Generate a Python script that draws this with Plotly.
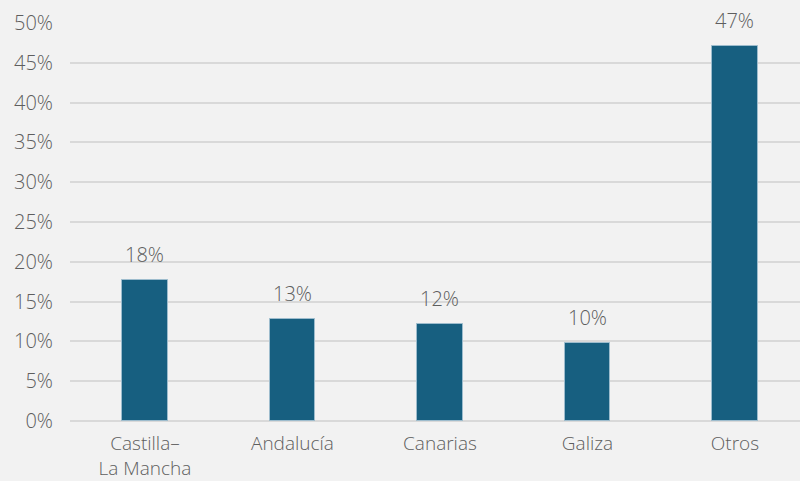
import plotly.graph_objects as go

categories = ["Castilla–<br>La Mancha", "Andalucía", "Canarias", "Galiza", "Otros"]
values = [17.7, 12.8, 12.2, 9.8, 47.1]
labels = ["18%", "13%", "12%", "10%", "47%"]
y_ticks = [0, 5, 10, 15, 20, 25, 30, 35, 40, 45, 50]

FONT = "Open Sans, Noto Sans, sans-serif"
GREY = "#5e5e5e"
FNT = dict(family=FONT, size=20, color=GREY, weight=300)
XFNT = dict(family=FONT, size=19, color=GREY, weight=300)

fig = go.Figure()
fig.add_trace(go.Bar(
    x=list(range(len(categories))), y=values,
    width=0.31,
    marker=dict(color="#175f80", line=dict(color="#9dbccd", width=1)),
    hoverinfo="skip",
))
for i, (v, t) in enumerate(zip(values, labels)):
    fig.add_annotation(x=i, y=v, text=t, showarrow=False, yanchor="bottom",
                       yshift=10, font=FNT)

fig.update_layout(
    width=800, height=481,
    margin=dict(l=70, r=0, t=23, b=60),
    paper_bgcolor="#f2f2f2", plot_bgcolor="#f2f2f2",
    showlegend=False,
    font=FNT,
    bargap=0,
)
fig.update_xaxes(
    tickmode="array", tickvals=list(range(len(categories))), ticktext=categories,
    range=[-0.508, 4.441], showgrid=False, zeroline=False, showline=False,
    tickfont=XFNT, fixedrange=True, ticklabelstandoff=9, automargin=False,
)
fig.update_yaxes(
    range=[0, 50], tickmode="array", tickvals=y_ticks,
    ticktext=[f"{t}%" for t in y_ticks],
    showgrid=True, gridcolor="#d9d9d9", gridwidth=2,
    zeroline=True, zerolinecolor="#d9d9d9", zerolinewidth=2,
    showline=False, ticklabelstandoff=16, automargin=False,
    tickfont=FNT, fixedrange=True,
)

fig.write_html("out.html", config={"displayModeBar": False},
               post_script="document.body.style.margin='0';document.body.style.background='#f2f2f2';")
